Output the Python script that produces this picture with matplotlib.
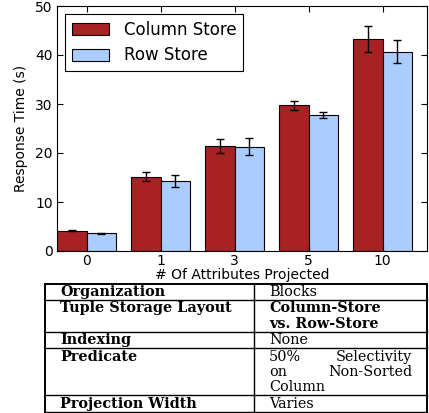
import numpy as np
import matplotlib.pyplot as plt

# bar chart data
attrs = ["0", "1", "3", "5", "10"]
column_store = [4.15, 15.2, 21.4, 29.7, 43.3]
column_err = [0.15, 1.0, 1.5, 0.85, 2.6]
row_store = [3.6, 14.3, 21.3, 27.8, 40.7]
row_err = [0.1, 1.2, 1.8, 0.65, 2.4]

# table below the chart: label, lines of the value cell, bold value
table_rows = [
    ("Organization", [["Blocks"]], False),
    ("Tuple Storage Layout", [["Column-Store"], ["vs. Row-Store"]], True),
    ("Indexing", [["None"]], False),
    ("Predicate", [["50%", "Selectivity"], ["on", "Non-Sorted"], ["Column"]], False),
    ("Projection Width", [["Varies"]], False),
]

W, H = 429, 413
fig = plt.figure(figsize=(W / 100, H / 100), dpi=100)

ax = fig.add_axes([57 / W, (H - 251) / H, 370 / W, 245 / H])
x = np.arange(len(attrs))
bw = 0.4
ax.bar(x - bw, column_store, bw, align="edge", color="#a82224", edgecolor="black",
       linewidth=0.8, label="Column Store")
ax.bar(x, row_store, bw, align="edge", color="#aaccff", edgecolor="black",
       linewidth=0.8, label="Row Store")
ax.errorbar(x - bw / 2, column_store, yerr=column_err, fmt="none", ecolor="black",
            elinewidth=1, capsize=3, capthick=1)
ax.errorbar(x + bw / 2, row_store, yerr=row_err, fmt="none", ecolor="black",
            elinewidth=1, capsize=3, capthick=1)

ax.set_xlim(-0.4, len(attrs) - 0.4)
ax.set_ylim(0, 50)
ax.set_yticks(range(0, 51, 10))
ax.set_xticks(x)
ax.set_xticklabels(attrs)
ax.tick_params(direction="in", top=True, right=True, labelsize=10, length=4, pad=2)
ax.tick_params(axis="y", pad=3)
ax.set_ylabel("Response Time (s)", fontsize=10, labelpad=5)
ax.set_xlabel("# Of Attributes Projected", fontsize=10, labelpad=0)
leg = ax.legend(loc="upper left", fontsize=12, fancybox=False, framealpha=1,
                edgecolor="black", handlelength=2.2, handleheight=0.75,
                borderaxespad=0.5, handletextpad=0.9, labelspacing=0.45,
                borderpad=0.4)
leg.get_frame().set_linewidth(0.8)

# table drawn in pixel coordinates
tax = fig.add_axes([0, 0, 1, 1])
tax.set_xlim(0, W)
tax.set_ylim(H, 0)
tax.axis("off")

left, mid, right = 45, 254, 427
top = 283.5
line_h = 15.3
fam = "DejaVu Serif"
fs = 10.4

y = top
tax.plot([left, right], [top, top], color="black", lw=1.4)
for label, lines, right_bold in table_rows:
    h = line_h * len(lines) + 1.2
    tax.text(60, y + 8.3, label, fontsize=fs, family=fam, weight="bold",
             va="center", ha="left")
    for i, words in enumerate(lines):
        yy = y + 8.3 + i * line_h
        wt = "bold" if right_bold else "normal"
        tax.text(269, yy, words[0], fontsize=fs, family=fam, weight=wt,
                 va="center", ha="left")
        if len(words) > 1:
            tax.text(412, yy, words[-1], fontsize=fs, family=fam, weight=wt,
                     va="center", ha="right")
    y += h
    tax.plot([left, right], [y, y], color="black", lw=1.0)
tax.plot([left, left], [top, y], color="black", lw=1.4)
tax.plot([right, right], [top, y], color="black", lw=1.4)
tax.plot([mid, mid], [top, y], color="black", lw=1.0)

fig.savefig("out.png", dpi=100)
